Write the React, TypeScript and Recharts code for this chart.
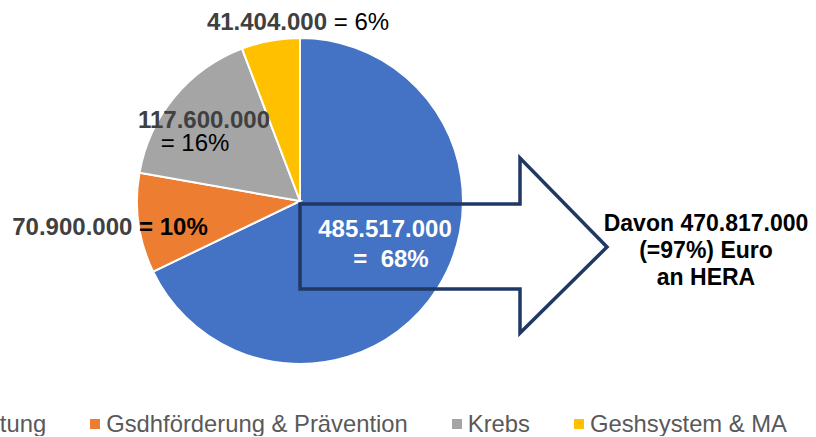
import React from 'react';
import { PieChart, Pie, Cell, Legend } from 'recharts';

const FONT = '"Liberation Sans", Arial, sans-serif';

const categories = ['Krisenvorbereitung', 'Gsdhförderung & Prävention', 'Krebs', 'Geshsystem & MA'];
const amounts = [485517000, 70900000, 117600000, 41404000];
const colors = ['#4472C4', '#ED7D31', '#A5A5A5', '#FFC000'];
const heraAmount = 470817000;

const data = categories.map((name, i) => ({ name, value: amounts[i] }));
const total = amounts.reduce((a, b) => a + b, 0);

const fmt = (n: number) => {
  const s = String(Math.round(n));
  return s.replace(/\B(?=(\d{3})+(?!\d))/g, '.');
};
const pct = (v: number) => Math.round((v / total) * 100);

// label layout (offsets from pie centre)
type Part = { text: string; bold: boolean; fill: string };
type Line = { dx: number; dy: number; parts: Part[] };

const labelLines = (i: number, v: number): Line[] => {
  const num = fmt(v);
  const p = pct(v);
  switch (i) {
    case 0:
      return [
        { dx: 85, dy: 27, parts: [{ text: num, bold: true, fill: '#FFFFFF' }] },
        { dx: 91, dy: 57, parts: [{ text: `=\u00a0\u00a0${p}%`, bold: true, fill: '#FFFFFF' }] },
      ];
    case 1:
      return [
        {
          dx: -190,
          dy: 25,
          parts: [
            { text: num, bold: true, fill: '#404040' },
            { text: `\u00a0= ${p}%`, bold: true, fill: '#000000' },
          ],
        },
      ];
    case 2:
      return [
        { dx: -96, dy: -82, parts: [{ text: num, bold: true, fill: '#404040' }] },
        { dx: -105, dy: -59, parts: [{ text: `= ${p}%`, bold: false, fill: '#000000' }] },
      ];
    default:
      return [
        {
          dx: -2,
          dy: -180,
          parts: [
            { text: num, bold: true, fill: '#404040' },
            { text: `\u00a0= ${p}%`, bold: false, fill: '#000000' },
          ],
        },
      ];
  }
};

const renderLabel = (props: any) => {
  const { index, value } = props;
  const cx = typeof props.cx === 'number' ? props.cx : 300;
  const cy = typeof props.cy === 'number' ? props.cy : 201;
  const lines = labelLines(index, value);
  return (
    <g key={`lbl-${index}`}>
      {lines.map((ln, k) => (
        <text
          key={k}
          x={cx + ln.dx}
          y={cy + ln.dy}
          textAnchor="middle"
          dominantBaseline="central"
          fontFamily={FONT}
          fontSize={24}
        >
          {ln.parts.map((pt, j) => (
            <tspan key={j} fill={pt.fill} fontWeight={pt.bold ? 'bold' : 'normal'}>
              {pt.text}
            </tspan>
          ))}
        </text>
      ))}
    </g>
  );
};

const ArrowOverlay = () => {
  const heraPct = Math.round((heraAmount / amounts[0]) * 100);
  const d = 'M300,204 L520,204 L520,158 L607,247 L520,333 L520,289 L300,289 Z';
  return (
    <svg
      width={816}
      height={437}
      style={{ position: 'absolute', left: 0, top: 0, pointerEvents: 'none' }}
    >
      <path d={d} fill="none" stroke="#1F3864" strokeWidth={3.5} strokeLinejoin="miter" />
      <text x={706} y={223} textAnchor="middle" dominantBaseline="central" fontFamily={FONT} fontSize={23} fontWeight="bold" fill="#000">
        {`Davon ${fmt(heraAmount)}`}
      </text>
      <text x={706} y={250} textAnchor="middle" dominantBaseline="central" fontFamily={FONT} fontSize={23} fontWeight="bold" fill="#000">
        {`(=${heraPct}%) Euro`}
      </text>
      <text x={706} y={277} textAnchor="middle" dominantBaseline="central" fontFamily={FONT} fontSize={23} fontWeight="bold" fill="#000">
        an HERA
      </text>
    </svg>
  );
};

const renderLegend = () => (
  <div
    style={{
      display: 'flex',
      justifyContent: 'flex-end',
      alignItems: 'center',
      width: 816,
      height: 24,
      paddingRight: 29,
      boxSizing: 'border-box',
      whiteSpace: 'nowrap',
      fontFamily: FONT,
      fontSize: 23.8,
      lineHeight: '24px',
      color: '#595959',
      overflow: 'hidden',
    }}
  >
    {categories.map((c, i) => (
      <div key={c} style={{ display: 'flex', alignItems: 'center', marginLeft: i === 0 ? 0 : 44, flexShrink: 0 }}>
        <span style={{ width: 10, height: 10, background: colors[i], marginRight: 6, display: 'inline-block' }} />
        <span>{c}</span>
      </div>
    ))}
  </div>
);

export default function App() {
  return (
    <div style={{ position: 'absolute', left: 0, top: 0, width: 816, height: 437, background: '#fff', overflow: 'hidden' }}>
      <PieChart width={816} height={437} margin={{ top: 0, right: 0, bottom: 0, left: 0 }}>
        <Pie
          data={data}
          dataKey="value"
          nameKey="name"
          cx={300}
          cy={201}
          outerRadius={163}
          startAngle={90}
          endAngle={-270}
          stroke="#FFFFFF"
          strokeWidth={2}
          isAnimationActive={false}
          labelLine={false}
          label={renderLabel}
        >
          {data.map((d, i) => (
            <Cell key={d.name} fill={colors[i]} />
          ))}
        </Pie>
        <Legend content={renderLegend} wrapperStyle={{ left: 0, top: 412, width: 816, height: 24, bottom: 'auto' }} />
      </PieChart>
      <ArrowOverlay />
    </div>
  );
}
